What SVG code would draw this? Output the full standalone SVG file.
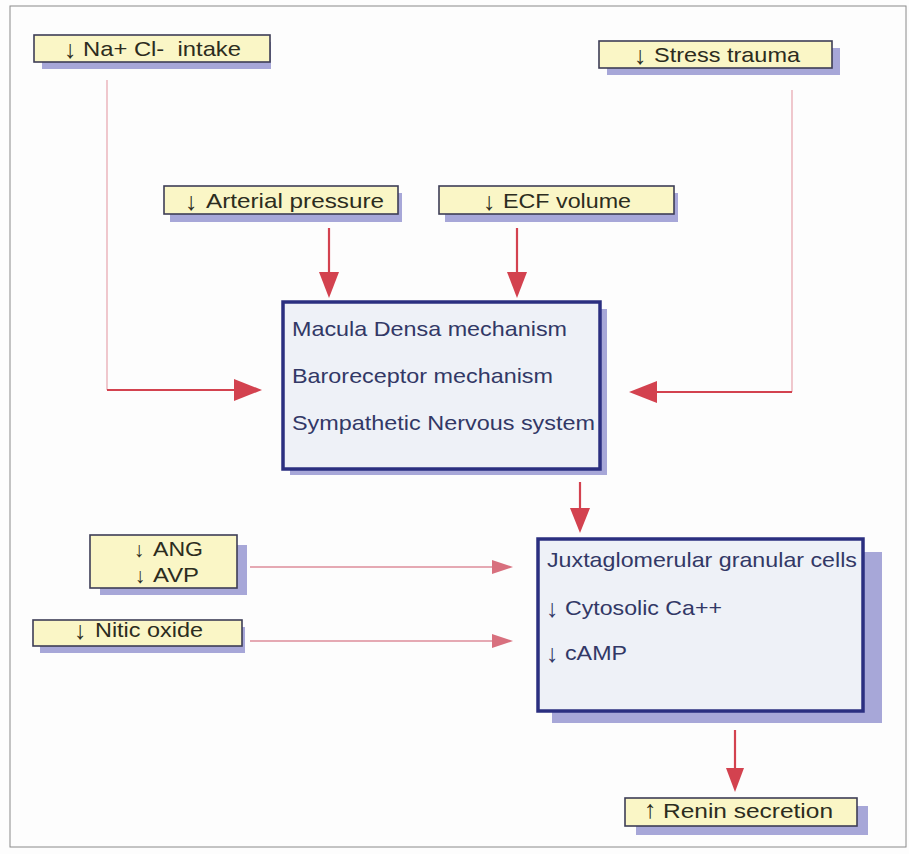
<svg xmlns="http://www.w3.org/2000/svg" width="909" height="854" viewBox="0 0 909 854">
  <style>
    .shadow { fill: #a7a7d8; }
    .small { fill: #faf6c6; stroke: #3e3e56; stroke-width: 1.6; }
    .big { fill: #eef1f7; stroke: #2b2f80; stroke-width: 3.5; }
    .lbl { font-family: "Liberation Sans", Arial, sans-serif; font-size: 21px; fill: #2c2c20; white-space: pre; }
    .blbl { font-family: "Liberation Sans", Arial, sans-serif; font-size: 21px; fill: #323866; white-space: pre; }
    .arw { font-family: "Liberation Sans", sans-serif; font-size: 25px; text-anchor: middle; }
    .arw.tight { font-size: 21px; }
    .feed { stroke: #e7a4ae; stroke-width: 1.2; fill: none; }
    .main { stroke: #d3424f; stroke-width: 2.2; fill: none; }
    .thin { stroke: #dc8c9a; stroke-width: 1.3; fill: none; }
    .head { fill: #d3424f; }
    .thead { fill: #d8707e; }
  </style>

  <!-- page -->
  <rect x="0" y="0" width="909" height="854" fill="#fdfdfd"/>
  <rect x="10" y="6" width="896" height="841" fill="none" stroke="#8a8a8a" stroke-width="1"/>

  <!-- connectors -->
  <g id="connectors">
    <!-- Na+ Cl- intake to macula densa box -->
    <polyline class="feed" points="107,80 107,390"/>
    <line class="main" x1="107" y1="390" x2="236" y2="390"/>
    <polygon class="head" points="234,379 262,390 234,401"/>
    <!-- stress trauma to box -->
    <polyline class="feed" points="792,90 792,392"/>
    <line class="main" x1="792" y1="392" x2="655" y2="392"/>
    <polygon class="head" points="657,381 629,392 657,403"/>
    <!-- arterial pressure -->
    <line class="main" x1="329" y1="228" x2="329" y2="274"/>
    <polygon class="head" points="319,272 339,272 329,298"/>
    <!-- ECF volume -->
    <line class="main" x1="517" y1="228" x2="517" y2="274"/>
    <polygon class="head" points="507,272 527,272 517,298"/>
    <!-- mechanisms to granular cells -->
    <line class="main" x1="580" y1="482" x2="580" y2="510"/>
    <polygon class="head" points="570,508 590,508 580,533"/>
    <!-- ANG / AVP -->
    <line class="thin" x1="250" y1="567" x2="494" y2="567"/>
    <polygon class="thead" points="492,560 513,567 492,574"/>
    <!-- nitric oxide -->
    <line class="thin" x1="250" y1="641" x2="494" y2="641"/>
    <polygon class="thead" points="492,634 513,641 492,648"/>
    <!-- granular cells to renin -->
    <line class="main" x1="735" y1="730" x2="735" y2="770"/>
    <polygon class="head" points="726,768 744,768 735,792"/>
  </g>

  <g id="na-intake">
    <rect class="shadow" x="42" y="42" width="229" height="27"/>
    <rect class="small" x="34" y="35" width="236" height="27"/>
    <text class="lbl arw" x="70" y="58">↓</text>
    <text class="lbl" x="83" y="56" textLength="158" lengthAdjust="spacingAndGlyphs">Na+ Cl-  intake</text>
  </g>

  <g id="stress-trauma">
    <rect class="shadow" x="607" y="48" width="233" height="27"/>
    <rect class="small" x="599" y="41" width="233" height="27"/>
    <text class="lbl arw" x="640" y="64">↓</text>
    <text class="lbl" x="654" y="62" textLength="146" lengthAdjust="spacingAndGlyphs">Stress trauma</text>
  </g>

  <g id="arterial-pressure">
    <rect class="shadow" x="170" y="193" width="232" height="29"/>
    <rect class="small" x="164" y="186" width="234" height="28"/>
    <text class="lbl arw" x="191" y="210">↓</text>
    <text class="lbl" x="206" y="208" textLength="178" lengthAdjust="spacingAndGlyphs">Arterial pressure</text>
  </g>

  <g id="ecf-volume">
    <rect class="shadow" x="445" y="193" width="233" height="29"/>
    <rect class="small" x="439" y="186" width="235" height="28"/>
    <text class="lbl arw" x="489" y="210">↓</text>
    <text class="lbl" x="503" y="208" textLength="128" lengthAdjust="spacingAndGlyphs">ECF volume</text>
  </g>

  <g id="mechanisms">
    <rect class="shadow" x="290" y="309" width="317" height="166"/>
    <rect class="big" x="283" y="302" width="317" height="167"/>
    <text class="blbl" x="292" y="336" textLength="275" lengthAdjust="spacingAndGlyphs">Macula Densa mechanism</text>
    <text class="blbl" x="292" y="383" textLength="261" lengthAdjust="spacingAndGlyphs">Baroreceptor mechanism</text>
    <text class="blbl" x="292" y="430" textLength="303" lengthAdjust="spacingAndGlyphs">Sympathetic Nervous system</text>
  </g>

  <g id="ang-avp">
    <rect class="shadow" x="100" y="545" width="147" height="50"/>
    <rect class="small" x="90" y="535" width="147" height="53"/>
    <text class="lbl arw tight" x="139" y="557">↓</text>
    <text class="lbl" x="153" y="556" textLength="50" lengthAdjust="spacingAndGlyphs">ANG</text>
    <text class="lbl arw tight" x="140" y="583">↓</text>
    <text class="lbl" x="153" y="582" textLength="46" lengthAdjust="spacingAndGlyphs">AVP</text>
  </g>

  <g id="nitric-oxide">
    <rect class="shadow" x="40" y="627" width="205" height="26"/>
    <rect class="small" x="33" y="620" width="209" height="26"/>
    <text class="lbl arw" x="80" y="639">↓</text>
    <text class="lbl" x="95" y="637" textLength="108" lengthAdjust="spacingAndGlyphs">Nitic oxide</text>
  </g>

  <g id="granular-cells">
    <rect class="shadow" x="552" y="552" width="330" height="171"/>
    <rect class="big" x="538" y="539" width="325" height="172"/>
    <text class="blbl" x="547" y="567" textLength="310" lengthAdjust="spacingAndGlyphs">Juxtaglomerular granular cells</text>
    <text class="blbl arw" x="552" y="617">↓</text>
    <text class="blbl" x="565" y="615" textLength="157" lengthAdjust="spacingAndGlyphs">Cytosolic Ca++</text>
    <text class="blbl arw" x="552" y="662">↓</text>
    <text class="blbl" x="565" y="660" textLength="62" lengthAdjust="spacingAndGlyphs">cAMP</text>
  </g>

  <g id="renin-secretion">
    <rect class="shadow" x="636" y="806" width="232" height="29"/>
    <rect class="small" x="625" y="798" width="232" height="28"/>
    <text class="lbl arw" x="650" y="818">↑</text>
    <text class="lbl" x="663" y="818" textLength="170" lengthAdjust="spacingAndGlyphs">Renin secretion</text>
  </g>
</svg>
